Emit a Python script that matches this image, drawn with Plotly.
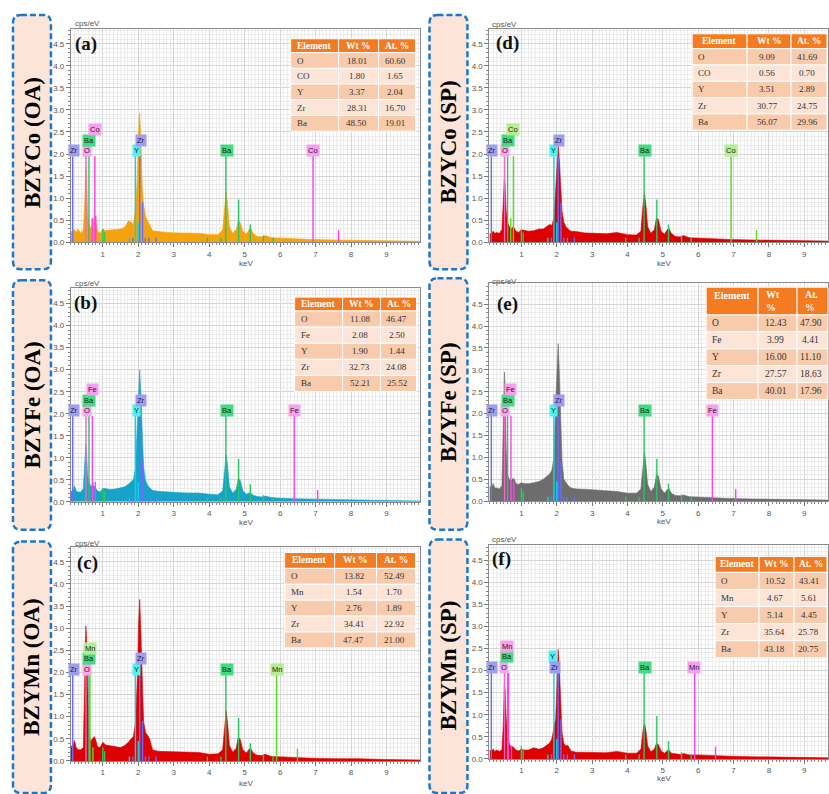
import plotly.graph_objects as go

W, H = 829, 794

# ---------------- data ----------------
E_KEV = [0.10, 0.15, 0.20, 0.25, 0.30, 0.38, 0.45, 0.49, 0.52, 0.54, 0.57, 0.61, 0.66, 0.71, 0.76, 0.80,
         0.85, 0.92, 1.00, 1.08, 1.20, 1.35, 1.50, 1.62, 1.72, 1.80, 1.86, 1.92, 1.97, 2.01, 2.04, 2.07,
         2.11, 2.15, 2.20, 2.26, 2.32, 2.40, 2.55, 2.80, 3.10, 3.40, 3.70, 4.00, 4.25, 4.38, 4.44, 4.48,
         4.52, 4.57, 4.66, 4.76, 4.82, 4.87, 4.95, 5.05, 5.12, 5.17, 5.24, 5.35, 5.50, 5.58, 5.75, 6.00,
         6.40, 6.90, 7.50, 8.20, 9.00, 10.0]

SPEC_A = [0.25, 0.22, 0.29, 0.22, 0.30, 0.20, 0.28, 0.90, 1.75, 1.60, 0.70, 0.40, 0.30, 0.42, 0.58, 0.55,
          0.25, 0.20, 0.30, 0.26, 0.27, 0.28, 0.30, 0.34, 0.48, 0.45, 0.40, 0.75, 1.40, 2.50, 2.92, 2.40,
          1.30, 0.85, 0.60, 0.48, 0.40, 0.26, 0.24, 0.22, 0.21, 0.20, 0.20, 0.17, 0.17, 0.28, 0.85, 1.15,
          0.85, 0.35, 0.20, 0.28, 0.48, 0.45, 0.25, 0.18, 0.28, 0.32, 0.20, 0.13, 0.12, 0.15, 0.10, 0.09,
          0.08, 0.06, 0.05, 0.04, 0.03, 0.02]
SPEC_B = [0.25, 0.22, 0.36, 0.25, 0.22, 0.22, 0.30, 0.80, 1.30, 1.20, 0.60, 0.45, 0.35, 0.38, 0.36, 0.30,
          0.25, 0.22, 0.30, 0.30, 0.28, 0.29, 0.32, 0.34, 0.40, 0.45, 0.50, 0.75, 1.60, 2.60, 3.00, 2.50,
          1.40, 0.80, 0.50, 0.38, 0.32, 0.26, 0.24, 0.22, 0.21, 0.20, 0.20, 0.17, 0.16, 0.25, 0.80, 1.08,
          0.80, 0.35, 0.20, 0.28, 0.52, 0.50, 0.25, 0.17, 0.20, 0.20, 0.15, 0.12, 0.11, 0.13, 0.10, 0.08,
          0.07, 0.06, 0.05, 0.04, 0.03, 0.02]
SPEC_C = [0.35, 0.30, 0.46, 0.30, 0.25, 0.25, 0.30, 1.60, 3.05, 2.80, 1.50, 0.60, 0.45, 0.50, 0.55, 0.48,
          0.32, 0.30, 0.42, 0.36, 0.34, 0.32, 0.30, 0.35, 0.42, 0.50, 0.55, 0.85, 1.80, 3.10, 3.65, 3.00,
          1.60, 0.90, 0.65, 0.58, 0.50, 0.25, 0.22, 0.21, 0.20, 0.19, 0.19, 0.15, 0.16, 0.25, 0.85, 1.14,
          0.85, 0.35, 0.20, 0.28, 0.52, 0.50, 0.25, 0.18, 0.26, 0.28, 0.18, 0.13, 0.12, 0.15, 0.10, 0.09,
          0.08, 0.06, 0.05, 0.05, 0.03, 0.02]
SPEC_D = [0.20, 0.18, 0.25, 0.20, 0.22, 0.20, 0.28, 0.80, 1.45, 1.30, 0.70, 0.45, 0.35, 0.30, 0.35, 0.32,
          0.25, 0.22, 0.28, 0.27, 0.25, 0.26, 0.30, 0.30, 0.35, 0.40, 0.38, 0.55, 1.20, 1.90, 2.20, 1.90,
          1.10, 0.70, 0.45, 0.35, 0.30, 0.25, 0.24, 0.21, 0.20, 0.19, 0.22, 0.17, 0.16, 0.25, 0.85, 1.10,
          0.85, 0.35, 0.20, 0.28, 0.55, 0.52, 0.25, 0.18, 0.28, 0.31, 0.20, 0.13, 0.12, 0.15, 0.10, 0.09,
          0.08, 0.06, 0.05, 0.04, 0.03, 0.02]
SPEC_E = [0.35, 0.30, 0.40, 0.30, 0.30, 0.28, 0.35, 1.50, 2.95, 2.60, 1.20, 0.60, 0.50, 0.45, 0.52, 0.50,
          0.40, 0.38, 0.42, 0.40, 0.40, 0.42, 0.45, 0.50, 0.58, 0.62, 0.70, 1.00, 2.20, 3.20, 3.60, 3.00,
          1.70, 0.90, 0.50, 0.42, 0.36, 0.30, 0.28, 0.27, 0.25, 0.23, 0.22, 0.18, 0.18, 0.28, 0.85, 1.12,
          0.85, 0.38, 0.22, 0.32, 0.60, 0.58, 0.28, 0.18, 0.26, 0.29, 0.18, 0.13, 0.12, 0.14, 0.10, 0.09,
          0.08, 0.06, 0.05, 0.04, 0.02, 0.02]
SPEC_F = [0.20, 0.18, 0.22, 0.17, 0.20, 0.17, 0.20, 0.80, 1.70, 1.55, 0.95, 0.60, 0.35, 0.25, 0.28, 0.25,
          0.20, 0.18, 0.22, 0.20, 0.20, 0.25, 0.22, 0.25, 0.30, 0.36, 0.45, 0.75, 0.90, 1.80, 2.48, 2.10,
          1.20, 0.60, 0.35, 0.30, 0.30, 0.18, 0.15, 0.15, 0.15, 0.14, 0.17, 0.13, 0.13, 0.22, 0.65, 0.81,
          0.65, 0.30, 0.16, 0.22, 0.35, 0.33, 0.18, 0.13, 0.18, 0.20, 0.13, 0.11, 0.10, 0.12, 0.09, 0.09,
          0.07, 0.06, 0.05, 0.04, 0.03, 0.02]

# element markers (label, energy keV)
EL_A = ["Zr", "O", "Ba", "Co", "Y", "Zr", "Ba", "Co"]
EN_A = [0.15, 0.525, 0.61, 0.775, 1.92, 2.04, 4.47, 6.93]
EL_B = ["Zr", "O", "Ba", "Fe", "Y", "Zr", "Ba", "Fe"]
EN_B = [0.15, 0.525, 0.61, 0.705, 1.92, 2.04, 4.47, 6.40]
EL_C = ["Zr", "O", "Ba", "Mn", "Y", "Zr", "Ba", "Mn"]
EN_C = [0.15, 0.525, 0.61, 0.637, 1.92, 2.04, 4.47, 5.90]
EL_D = ["Zr", "O", "Ba", "Co", "Y", "Zr", "Ba", "Co"]
EN_D = [0.15, 0.525, 0.61, 0.775, 1.92, 2.04, 4.47, 6.93]
EL_E = ["Zr", "O", "Ba", "Fe", "Y", "Zr", "Ba", "Fe"]
EN_E = [0.15, 0.525, 0.61, 0.705, 1.92, 2.04, 4.47, 6.40]
EL_F = ["Zr", "O", "Ba", "Mn", "Y", "Zr", "Ba", "Mn"]
EN_F = [0.15, 0.525, 0.61, 0.637, 1.92, 2.04, 4.47, 5.90]

# minor emission lines (energy keV, relative height)
SEC_COMMON_E = [1.00, 1.05, 2.12, 2.00, 2.20, 2.30, 1.75, 1.85, 2.50, 3.95, 4.33, 4.83, 5.16, 5.53, 5.80]
SEC_COMMON_H = [0.30, 0.22, 0.90, 0.45, 0.10, 0.10, 0.10, 0.10, 0.10, 0.10, 0.10, 0.97, 0.40, 0.15, 0.10]
SEC_COMMON_K = ["Ba", "Ba", "Zr", "Y", "Zr", "Zr", "Y", "Zr", "Zr", "Ba", "Ba", "Ba", "Ba", "Ba", "Ba"]
SEC_A_E = [0.70, 0.80, 7.65]; SEC_A_H = [0.55, 0.60, 0.27]
SEC_B_E = [0.72, 0.79, 7.06]; SEC_B_H = [0.45, 0.45, 0.27]
SEC_C_E = [0.72, 6.49];       SEC_C_H = [0.30, 0.28]
SEC_D_E = [0.70, 7.65];       SEC_D_H = [0.55, 0.27]
SEC_E_E = [0.72, 0.79, 7.06]; SEC_E_H = [0.45, 0.45, 0.27]
SEC_F_E = [0.72, 6.49];       SEC_F_H = [0.30, 0.28]

# composition tables
TB_EL_A = ["O", "CO", "Y", "Zr", "Ba"]; TB_WT_A = ["18.01", "1.80", "3.37", "28.31", "48.50"]; TB_AT_A = ["60.60", "1.65", "2.04", "16.70", "19.01"]
TB_EL_B = ["O", "Fe", "Y", "Zr", "Ba"]; TB_WT_B = ["11.08", "2.08", "1.90", "32.73", "52.21"]; TB_AT_B = ["46.47", "2.50", "1.44", "24.08", "25.52"]
TB_EL_C = ["O", "Mn", "Y", "Zr", "Ba"]; TB_WT_C = ["13.82", "1.54", "2.76", "34.41", "47.47"]; TB_AT_C = ["52.49", "1.70", "1.89", "22.92", "21.00"]
TB_EL_D = ["O", "CO", "Y", "Zr", "Ba"]; TB_WT_D = ["9.09", "0.56", "3.51", "30.77", "56.07"]; TB_AT_D = ["41.69", "0.70", "2.89", "24.75", "29.96"]
TB_EL_E = ["O", "Fe", "Y", "Zr", "Ba"]; TB_WT_E = ["12.43", "3.99", "16.00", "27.57", "40.01"]; TB_AT_E = ["47.90", "4.41", "11.10", "18.63", "17.96"]
TB_EL_F = ["O", "Mn", "Y", "Zr", "Ba"]; TB_WT_F = ["10.52", "4.67", "5.14", "35.64", "43.18"]; TB_AT_F = ["43.41", "5.61", "4.45", "25.78", "20.75"]

SIDE_LABELS = ["BZYCo (OA)", "BZYFe (OA)", "BZYMn (OA)", "BZYCo (SP)", "BZYFe (SP)", "BZYMn (SP)"]
PANEL_LETTERS = ["(a)", "(b)", "(c)", "(d)", "(e)", "(f)"]
Y_TICKS = [0.0, 0.5, 1.0, 1.5, 2.0, 2.5, 3.0, 3.5, 4.0, 4.5]
X_TICKS = [1, 2, 3, 4, 5, 6, 7, 8, 9]

# ---------------- style / layout ----------------
def px(x): return x / W
def py(y): return 1 - y / H

LEVEL_Y = {1: 2.07, 2: 2.31, 3: 2.55}
LINE_TOP = 1.95
COL = {
    'Zr': ('#6b6bff', '#9d9df4'),
    'O': ('#ff5fc8', '#f6a5ee'),
    'Ba': ('#25c862', '#3fdc80'),
    'Y': ('#08d4ec', '#48f4f4'),
    'pink': ('#ff3fe8', '#fa9ef1'),
    'lime': ('#5cd81c', '#b4ee90'),
}

panels = [
    dict(spec=SPEC_A, color='#f5a30c', xd=(71, 421), yd=(29, 243.7), ymax=4.84, xr=(0.1, 9.96),
         el=EL_A, en=EN_A, lx=[0.20, 0.55, 0.62, 0.79, 1.94, 2.07, 4.50, 6.94], lv=[1, 1, 2, 3, 1, 2, 1, 1],
         ck=['Zr', 'O', 'Ba', 'pink', 'Y', 'Zr', 'Ba', 'pink'], se=SEC_A_E, sh=SEC_A_H, sk='pink',
         tb=(TB_EL_A, TB_WT_A, TB_AT_A), tc=[291, 339, 379, 416], ty=[39, 53, 132], two=False,
         box=(13, 15, 51, 271), tcen=(32, 143), cps=(73, 24), kev=(246, 265), let=(86, 44.5)),
    dict(spec=SPEC_B, color='#17a3c7', xd=(71, 421), yd=(290, 505), ymax=4.85, xr=(0.1, 9.96),
         el=EL_B, en=EN_B, lx=[0.20, 0.55, 0.62, 0.72, 1.94, 2.07, 4.50, 6.42], lv=[1, 1, 2, 3, 1, 2, 1, 1],
         ck=['Zr', 'O', 'Ba', 'pink', 'Y', 'Zr', 'Ba', 'pink'], se=SEC_B_E, sh=SEC_B_H, sk='pink',
         tb=(TB_EL_B, TB_WT_B, TB_AT_B), tc=[295, 343, 381, 417], ty=[299, 313, 394], two=False,
         box=(13, 282, 51, 533), tcen=(32, 407), cps=(73, 285), kev=(246, 526), let=(86, 305)),
    dict(spec=SPEC_C, color='#dd0000', xd=(71, 421), yd=(550.7, 765.7), ymax=4.83, xr=(0.1, 9.96),
         el=EL_C, en=EN_C, lx=[0.20, 0.55, 0.62, 0.63, 1.94, 2.07, 4.50, 5.92], lv=[1, 1, 2, 3, 1, 2, 1, 1],
         ck=['Zr', 'O', 'Ba', 'lime', 'Y', 'Zr', 'Ba', 'lime'], se=SEC_C_E, sh=SEC_C_H, sk='lime',
         tb=(TB_EL_C, TB_WT_C, TB_AT_C), tc=[285, 335, 377, 416], ty=[556, 572, 652], two=False,
         box=(13, 545, 51, 798), tcen=(32, 671), cps=(73, 547), kev=(246, 788), let=(88, 567)),
    dict(spec=SPEC_D, color='#dd0000', xd=(490, 829), yd=(29, 243.7), ymax=4.84, xr=(0.096, 9.67),
         el=EL_D, en=EN_D, lx=[0.18, 0.53, 0.62, 0.77, 1.90, 2.05, 4.49, 6.94], lv=[1, 1, 2, 3, 1, 2, 1, 1],
         ck=['Zr', 'O', 'Ba', 'lime', 'Y', 'Zr', 'Ba', 'lime'], se=SEC_D_E, sh=SEC_D_H, sk='lime',
         tb=(TB_EL_D, TB_WT_D, TB_AT_D), tc=[693, 748, 792, 828], ty=[34, 49, 131], two=False,
         box=(430, 15, 468, 271), tcen=(449, 143), cps=(491, 25), kev=(665, 265), let=(508, 43)),
    dict(spec=SPEC_E, color='#6d6d6d', xd=(490, 829), yd=(285, 504.3), ymax=4.98, xr=(0.096, 9.67),
         el=EL_E, en=EN_E, lx=[0.18, 0.53, 0.62, 0.70, 1.90, 2.05, 4.49, 6.41], lv=[1, 1, 2, 3, 1, 2, 1, 1],
         ck=['Zr', 'O', 'Ba', 'pink', 'Y', 'Zr', 'Ba', 'pink'], se=SEC_E_E, sh=SEC_E_H, sk='pink',
         tb=(TB_EL_E, TB_WT_E, TB_AT_E), tc=[707, 759, 798, 829], ty=[289, 317, 402], two=True,
         box=(430, 280, 468, 533), tcen=(449, 405), cps=(491, 283), kev=(665, 525), let=(508, 306)),
    dict(spec=SPEC_F, color='#dd0000', xd=(490, 829), yd=(548.3, 763.7), ymax=4.85, xr=(0.096, 9.67),
         el=EL_F, en=EN_F, lx=[0.17, 0.505, 0.58, 0.60, 1.89, 1.96, 4.49, 5.89], lv=[1, 1, 2, 3, 2, 1, 1, 1],
         ck=['Zr', 'O', 'Ba', 'pink', 'Y', 'Zr', 'Ba', 'pink'], se=SEC_F_E, sh=SEC_F_H, sk='pink',
         tb=(TB_EL_F, TB_WT_F, TB_AT_F), tc=[716, 760, 795, 828], ty=[560, 576, 662], two=False,
         box=(430, 543, 468, 798), tcen=(449, 669), cps=(491, 543), kev=(665, 783), let=(502, 563)),
]

fig = go.Figure()
shapes = []
annots = []

TICKFONT = dict(family='Liberation Sans, Arial', size=8, color='#555555')
SERIF = 'Liberation Serif, Times New Roman, serif'


def rounded_path(x0, y0, x1, y1, r):
    rx, ry = r / W, r / H
    X0, X1, Y0, Y1 = px(x0), px(x1), py(y0), py(y1)
    return (f"M {X0+rx},{Y0} L {X1-rx},{Y0} Q {X1},{Y0} {X1},{Y0-ry} L {X1},{Y1+ry} "
            f"Q {X1},{Y1} {X1-rx},{Y1} L {X0+rx},{Y1} Q {X0},{Y1} {X0},{Y1+ry} "
            f"L {X0},{Y0-ry} Q {X0},{Y0} {X0+rx},{Y0} Z")


def add_table(cols, ys, tb, two):
    els, wts, ats = tb
    ht, hb, ye = ys
    rh = (ye - hb) / 5
    hdr = ['Element', 'Wt<br>%', 'At.<br>%'] if two else ['Element', 'Wt %', 'At. %']
    for j in range(3):
        shapes.append(dict(type='rect', xref='paper', yref='paper', x0=px(cols[j]), x1=px(cols[j + 1]),
                           y0=py(hb), y1=py(ht), fillcolor='#f47b20', line=dict(color='white', width=1),
                           layer='above'))
        if two and j > 0:
            annots.append(dict(xref='paper', yref='paper', x=px(cols[j] + 6), y=py((ht + hb) / 2),
                               xanchor='left', yanchor='middle', align='left', showarrow=False,
                               text=f'<b>{hdr[j]}</b>', font=dict(family=SERIF, size=10, color='white')))
        elif two:
            annots.append(dict(xref='paper', yref='paper', x=px((cols[j] + cols[j + 1]) / 2), y=py(ht + 8),
                               xanchor='center', yanchor='middle', showarrow=False,
                               text=f'<b>{hdr[j]}</b>', font=dict(family=SERIF, size=10, color='white')))
        else:
            annots.append(dict(xref='paper', yref='paper', x=px((cols[j] + cols[j + 1]) / 2), y=py((ht + hb) / 2),
                               xanchor='center', yanchor='middle', showarrow=False,
                               text=f'<b>{hdr[j]}</b>', font=dict(family=SERIF, size=9.5, color='white')))
    for r in range(5):
        fill = '#f8cbad' if r % 2 == 0 else '#fce4d6'
        t0, t1 = hb + r * rh, hb + (r + 1) * rh
        vals = [els[r], wts[r], ats[r]]
        for j in range(3):
            shapes.append(dict(type='rect', xref='paper', yref='paper', x0=px(cols[j]), x1=px(cols[j + 1]),
                               y0=py(t1), y1=py(t0), fillcolor=fill, line=dict(color='white', width=1),
                               layer='above'))
            if j == 0:
                annots.append(dict(xref='paper', yref='paper', x=px(cols[0] + 4), y=py((t0 + t1) / 2),
                                   xanchor='left', yanchor='middle', showarrow=False, text=vals[j],
                                   font=dict(family=SERIF, size=9.5 if two else 9, color='#333333')))
            else:
                annots.append(dict(xref='paper', yref='paper', x=px((cols[j] + cols[j + 1]) / 2 - 2),
                                   y=py((t0 + t1) / 2), xanchor='center', yanchor='middle', showarrow=False,
                                   text=vals[j], font=dict(family=SERIF, size=9.5 if two else 9, color='#333333')))


for i, p in enumerate(panels, start=1):
    xa = 'x' if i == 1 else f'x{i}'
    ya = 'y' if i == 1 else f'y{i}'
    # spectrum
    fig.add_trace(go.Scatter(x=E_KEV, y=p['spec'], mode='lines', line=dict(color=p['color'], width=0.6),
                             fill='tozeroy', fillcolor=p['color'], hoverinfo='skip', showlegend=False,
                             xaxis=xa, yaxis=ya))
    # emission lines grouped by colour
    groups = {}
    def push(k, e, h):
        g = groups.setdefault(k, ([], []))
        g[0].extend([e, e, None]); g[1].extend([0, h, None])
    for e, k in zip(SEC_COMMON_E, SEC_COMMON_K):
        pass
    for e, h, k in zip(SEC_COMMON_E, SEC_COMMON_H, SEC_COMMON_K):
        push(k, e, h)
    for e, h in zip(p['se'], p['sh']):
        push(p['sk'], e, h)
    for e, k in zip(p['en'], p['ck']):
        push(k, e, LINE_TOP)
    for k, (xs, ys) in groups.items():
        fig.add_trace(go.Scatter(x=xs, y=ys, mode='lines', line=dict(color=COL[k][0], width=1.4),
                                 hoverinfo='skip', showlegend=False, xaxis=xa, yaxis=ya))
    # element labels
    for lab, lx, lv, k in zip(p['el'], p['lx'], p['lv'], p['ck']):
        annots.append(dict(xref=xa, yref=ya, x=lx, y=LEVEL_Y[lv], text=lab, showarrow=False,
                           bgcolor=COL[k][1], borderpad=1, xanchor='center', yanchor='middle',
                           font=dict(family='Liberation Sans, Arial', size=7.5, color='#222222')))
    # axes
    xkey = 'xaxis' if i == 1 else f'xaxis{i}'
    ykey = 'yaxis' if i == 1 else f'yaxis{i}'
    fig.layout[xkey] = dict(domain=[px(p['xd'][0]), px(p['xd'][1])], range=list(p['xr']), anchor=ya,
                            tickvals=X_TICKS, ticks='outside', ticklen=4, tickcolor='#777777',
                            tickfont=TICKFONT, showgrid=True, gridcolor='#d6d6d6', gridwidth=1,
                            showline=True, linecolor='#8a8a8a', linewidth=1, mirror=True, zeroline=False,
                            minor=dict(dtick=0.1, tick0=0, ticks='outside', ticklen=2, tickcolor='#888888',
                                       showgrid=True, gridcolor='#ececec', gridwidth=1),
                            fixedrange=True)
    fig.layout[ykey] = dict(domain=[py(p['yd'][1]), py(p['yd'][0])], range=[0, p['ymax']], anchor=xa,
                            tickvals=Y_TICKS, tickformat='.1f', ticks='outside', ticklen=4, tickcolor='#777777',
                            tickfont=TICKFONT, showgrid=True, gridcolor='#d6d6d6', gridwidth=1,
                            showline=True, linecolor='#8a8a8a', linewidth=1, mirror=True, zeroline=False,
                            minor=dict(dtick=0.1, tick0=0, ticks='outside', ticklen=2, tickcolor='#888888',
                                       showgrid=True, gridcolor='#ececec', gridwidth=1),
                            fixedrange=True)
    # texts
    annots.append(dict(xref='paper', yref='paper', x=px(p['cps'][0]), y=py(p['cps'][1]), text='cps/eV',
                       showarrow=False, xanchor='left', yanchor='middle',
                       font=dict(family='Liberation Sans, Arial', size=8, color='#555555')))
    annots.append(dict(xref='paper', yref='paper', x=px(p['kev'][0]), y=py(p['kev'][1]), text='keV',
                       showarrow=False, xanchor='center', yanchor='middle',
                       font=dict(family='Liberation Sans, Arial', size=8, color='#555555')))
    annots.append(dict(xref='paper', yref='paper', x=px(p['let'][0]), y=py(p['let'][1]),
                       text=f'<b>{PANEL_LETTERS[i-1]}</b>', showarrow=False, xanchor='center', yanchor='middle',
                       font=dict(family=SERIF, size=19, color='#111111')))
    # table
    add_table(p['tc'], p['ty'], p['tb'], p['two'])
    # side box
    bx = p['box']
    shapes.append(dict(type='path', xref='paper', yref='paper', path=rounded_path(*bx, 8),
                       fillcolor='#fce4d8', line=dict(color='#1a78cc', width=2.5, dash='6px,3px'),
                       layer='above'))
    annots.append(dict(xref='paper', yref='paper', x=px(p['tcen'][0]), y=py(p['tcen'][1]),
                       text=f'<b>{SIDE_LABELS[i-1]}</b>', textangle=-90, showarrow=False,
                       xanchor='center', yanchor='middle', font=dict(family=SERIF, size=23, color='#000000')))

fig.update_layout(width=W, height=H, margin=dict(l=0, r=0, t=0, b=0), plot_bgcolor='white',
                  paper_bgcolor='white', showlegend=False, shapes=shapes, annotations=annots)

fig.write_html("out.html")
